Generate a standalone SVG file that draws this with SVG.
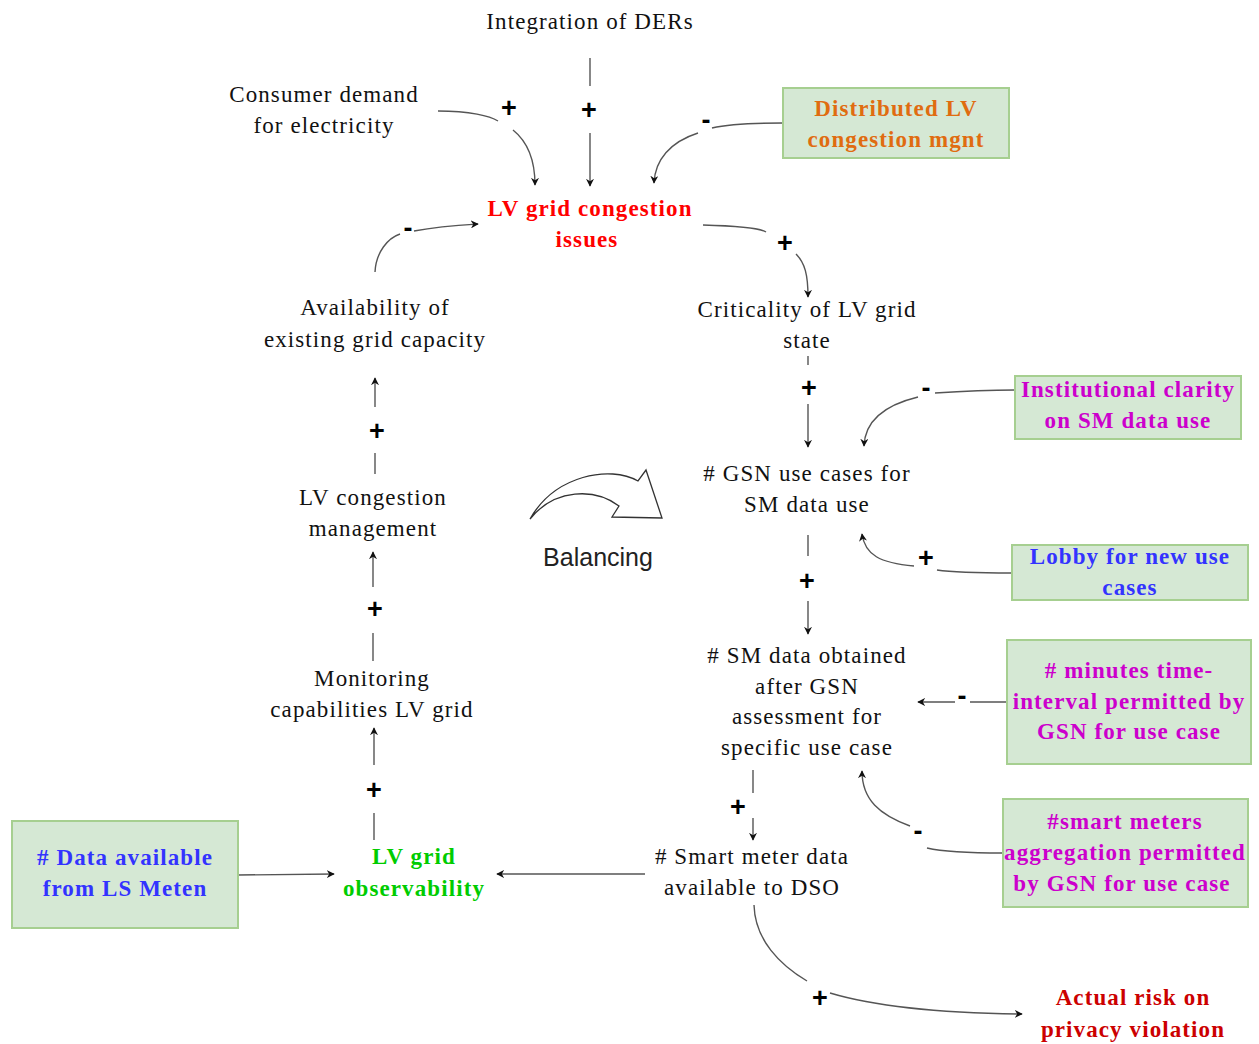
<svg xmlns="http://www.w3.org/2000/svg" width="1259" height="1044" viewBox="0 0 1259 1044">
<defs>
<marker id="ah" viewBox="0 0 10 10" refX="9" refY="5" markerWidth="8" markerHeight="8" markerUnits="userSpaceOnUse" orient="auto">
<path d="M0,0 L10,5 L0,10 L3,5 Z" fill="#111"/>
</marker>
<style>
text{font-family:"Liberation Serif","Times New Roman",serif;font-size:23px;letter-spacing:1.1px;text-anchor:middle;fill:#111}
.b{font-weight:bold}
.red{fill:#ff0000}
.dred{fill:#cc0000}
.org{fill:#e06c10}
.mag{fill:#cc00cc}
.blu{fill:#3333ff}
.grn{fill:#00cc00}
.box{fill:#d5e8d4;stroke:#a6cf90;stroke-width:2}
.sg{font-family:"Liberation Sans",Arial,sans-serif;font-size:27px;letter-spacing:0;font-weight:bold;fill:#000}
.bal{font-family:"Liberation Sans",Arial,sans-serif;font-size:25px;letter-spacing:0;fill:#222}
.c{fill:none;stroke:#555;stroke-width:1.4}
.a{marker-end:url(#ah)}
</style>
</defs>
<rect width="1259" height="1044" fill="#fff"/>

<g id="connectors">
<path class="c" d="M438,111 C470,111 490,116 498,121"/>
<path class="c a" d="M513,130 C528,142 535,160 535,185"/>
<path class="c" d="M590,58 L590,86"/>
<path class="c a" d="M590,133 L590,186"/>
<path class="c" d="M783,123 C750,123 725,125 712,128"/>
<path class="c a" d="M698,133 C670,142 655,160 654,183"/>
<path class="c" d="M375,272 C376,252 388,238 400,234"/>
<path class="c a" d="M414,231 C440,226 460,225 478,224"/>
<path class="c" d="M703,225 C740,226 760,228 766,232"/>
<path class="c a" d="M796,254 C805,263 808,275 808,297"/>
<path class="c" d="M808,356 L808,365"/>
<path class="c a" d="M808,404 L808,447"/>
<path class="c" d="M1015,390 C980,390 950,392 935,393"/>
<path class="c a" d="M918,397 C885,405 865,420 864,446"/>
<path class="c" d="M1012,573 C980,573 950,572 937,570"/>
<path class="c a" d="M914,566 C880,563 865,555 862,534"/>
<path class="c" d="M808,535 L808,556"/>
<path class="c a" d="M808,601 L808,634"/>
<path class="c" d="M1007,702 L970,702"/>
<path class="c a" d="M955,702 L918,702"/>
<path class="c" d="M1003,853 C970,853 940,851 927,848"/>
<path class="c a" d="M910,826 C880,815 862,800 862,771"/>
<path class="c" d="M753,770 L753,793"/>
<path class="c a" d="M753,818 L753,840"/>
<path class="c a" d="M645,874 L497,874"/>
<path class="c a" d="M238,875 L334,874"/>
<path class="c" d="M374,840 L374,813"/>
<path class="c a" d="M374,765 L374,728"/>
<path class="c" d="M373,661 L373,633"/>
<path class="c a" d="M373,587 L373,552"/>
<path class="c" d="M375,474 L375,453"/>
<path class="c a" d="M375,407 L375,378"/>
<path class="c" d="M754,905 C755,940 780,965 807,981"/>
<path class="c a" d="M830,993 C870,1005 930,1013 1022,1014"/>
<text class="sg" x="509" y="117">+</text>
<text class="sg" x="589" y="119">+</text>
<text class="sg" x="706" y="129">-</text>
<text class="sg" x="408" y="237">-</text>
<text class="sg" x="785" y="252">+</text>
<text class="sg" x="809" y="397">+</text>
<text class="sg" x="926" y="397">-</text>
<text class="sg" x="926" y="567">+</text>
<text class="sg" x="807" y="590">+</text>
<text class="sg" x="962" y="705">-</text>
<text class="sg" x="918" y="840">-</text>
<text class="sg" x="738" y="816">+</text>
<text class="sg" x="374" y="799">+</text>
<text class="sg" x="375" y="618">+</text>
<text class="sg" x="377" y="440">+</text>
<text class="sg" x="820" y="1007">+</text>
</g>

<g id="integration"><text x="590" y="29">Integration of DERs</text></g>
<g id="consumer"><text x="324" y="102">Consumer demand</text><text x="324" y="133">for electricity</text></g>
<g id="congestion"><text class="b red" x="590" y="216">LV grid congestion</text><text class="b red" x="587" y="247">issues</text></g>
<g id="distributed"><rect class="box" x="783" y="88" width="226" height="70"/><text class="b org" x="896" y="116">Distributed LV</text><text class="b org" x="896" y="147">congestion mgnt</text></g>
<g id="availability"><text x="375" y="315">Availability of</text><text x="375" y="347">existing grid capacity</text></g>
<g id="criticality"><text x="807" y="317">Criticality of LV grid</text><text x="807" y="348">state</text></g>
<g id="lvcongmgmt"><text x="373" y="505">LV congestion</text><text x="373" y="536">management</text></g>
<g id="balancing">
<path d="M530,519 C555,475 610,465 638,481 L646,470 L662,518 L612,517 L619,506 C595,488 555,488 530,519 Z" fill="#fff" stroke="#333" stroke-width="1.3"/>
<text class="bal" x="598" y="566">Balancing</text>
</g>
<g id="gsn"><text x="807" y="481"># GSN use cases for</text><text x="807" y="512">SM data use</text></g>
<g id="institutional"><rect class="box" x="1015" y="376" width="226" height="63"/><text class="b mag" x="1128" y="397">Institutional clarity</text><text class="b mag" x="1128" y="428">on SM data use</text></g>
<g id="lobby"><rect class="box" x="1012" y="545" width="236" height="55"/><text class="b blu" x="1130" y="564">Lobby for new use</text><text class="b blu" x="1130" y="595">cases</text></g>
<g id="smobtained"><text x="807" y="663"># SM data obtained</text><text x="807" y="694">after GSN</text><text x="807" y="724">assessment for</text><text x="807" y="755">specific use case</text></g>
<g id="minutes"><rect class="box" x="1007" y="640" width="244" height="124"/><text class="b mag" x="1129" y="678"># minutes time-</text><text class="b mag" x="1129" y="709">interval permitted by</text><text class="b mag" x="1129" y="739">GSN for use case</text></g>
<g id="aggregation"><rect class="box" x="1003" y="799" width="245" height="108"/><text class="b mag" x="1125" y="829">#smart meters</text><text class="b mag" x="1125" y="860">aggregation permitted</text><text class="b mag" x="1122" y="891">by GSN for use case</text></g>
<g id="smartmeterdata"><text x="752" y="864"># Smart meter data</text><text x="752" y="895">available to DSO</text></g>
<g id="dataavailable"><rect class="box" x="12" y="821" width="226" height="107"/><text class="b blu" x="125" y="865"># Data available</text><text class="b blu" x="125" y="896">from LS Meten</text></g>
<g id="observability"><text class="b grn" x="414" y="864">LV grid</text><text class="b grn" x="414" y="896">observability</text></g>
<g id="monitoring"><text x="372" y="686">Monitoring</text><text x="372" y="717">capabilities LV grid</text></g>
<g id="privacy"><text class="b dred" x="1133" y="1005">Actual risk on</text><text class="b dred" x="1133" y="1037">privacy violation</text></g>
</svg>
